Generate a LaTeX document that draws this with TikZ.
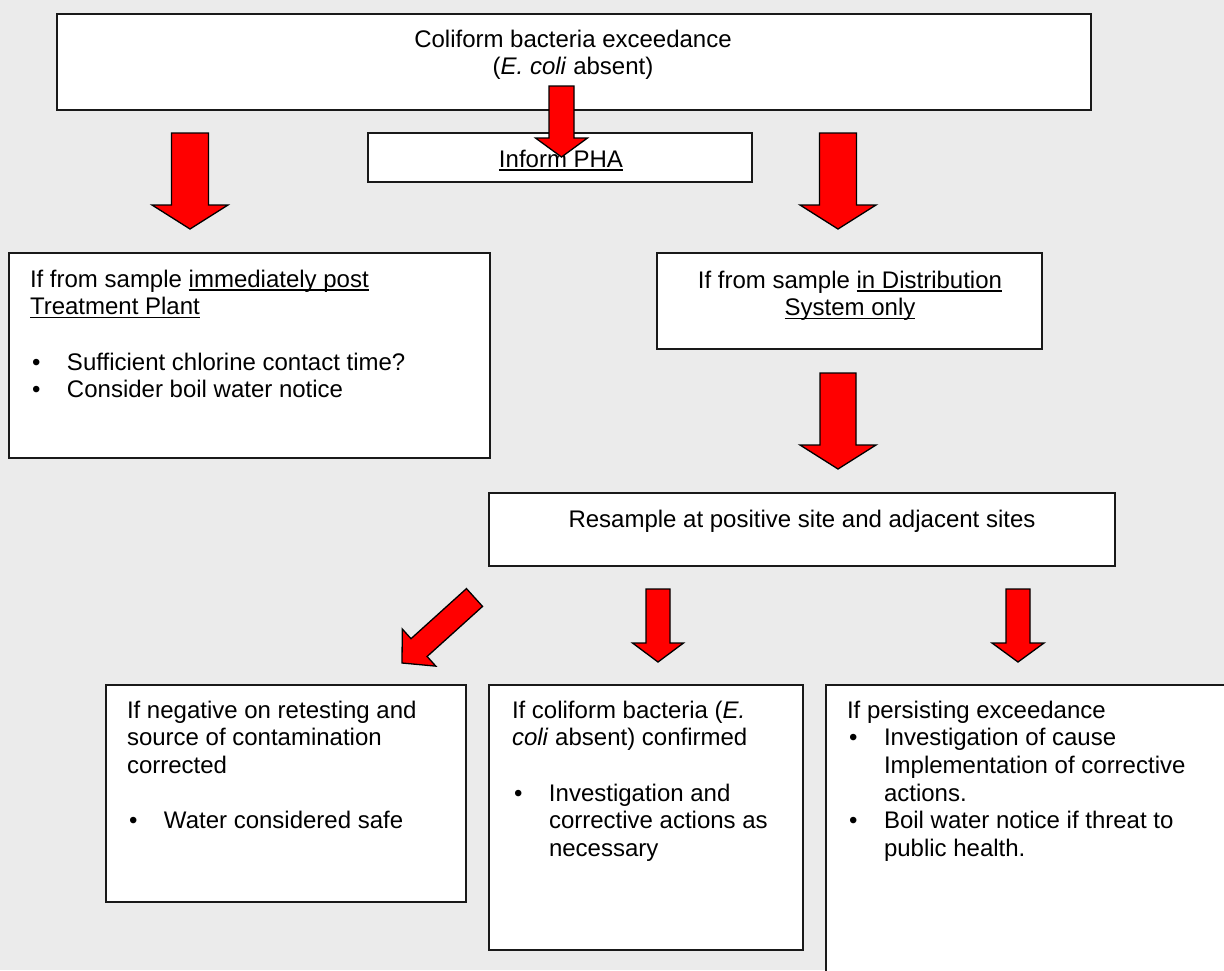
\documentclass[tikz,border=0pt]{standalone}
\usepackage{fontspec}
\setmainfont{Liberation Sans}
\usetikzlibrary{calc}
\definecolor{bggray}{RGB}{235,235,235}
\definecolor{arrowred}{RGB}{255,0,0}
\newcommand\myul[1]{\setbox0\hbox{#1}\rlap{\rule[-3.5pt]{\wd0}{1.5pt}}\box0}
\newcommand\bulmark{\makebox[37pt][l]{\hspace{2pt}\textbullet}}
\newcommand\blockarrow[6]{%
  \coordinate (#6-h) at ($(#2)!#5!(#1)$);
  \draw[redarrow] ($(#1)!#3!90:(#2)$) -- ($(#6-h)!#3!90:(#2)$) -- ($(#6-h)!#4!90:(#2)$) -- (#2)
    -- ($(#6-h)!#4!-90:(#2)$) -- ($(#6-h)!#3!-90:(#2)$) -- ($(#1)!#3!-90:(#2)$) -- cycle;}
\newcommand\boxnode[5]{%
  \node[box, anchor=north west, minimum width={#4-#2}, minimum height={#5-#3}] (#1) at (#2,#3) {};}
\tikzset{
  box/.style={draw=black!90, fill=white, line width=1.6pt, inner sep=0pt, outer sep=0pt},
  txt/.style={inner sep=0pt, outer sep=0pt, font=\fontsize{24}{27.7}\selectfont, text=black},
  redarrow/.style={fill=arrowred, draw=black, line width=1.3pt, line join=miter},
}
\begin{document}
\begin{tikzpicture}[x=1pt,y=-1pt]
\fill[bggray] (0,0) rectangle (1224,970);
\useasboundingbox (0,0) rectangle (1224,970);
\begin{scope}
\clip (0,0) rectangle (1224,970);
% boxes
\boxnode{top}{57}{14}{1091}{110}
\boxnode{inform}{368}{133}{752}{182}
\boxnode{post}{9}{253}{490}{458}
\boxnode{dist}{657}{253}{1042}{349}
\boxnode{resample}{489}{493}{1115}{566}
\boxnode{neg}{106}{685}{466}{902}
\boxnode{conf}{489}{685}{803}{950}
\boxnode{pers}{826}{685}{1260}{1010}

% texts
\node[txt, anchor=base] (toptxt) at (573,47) {\begin{tabular}[t]{@{}c@{}}Coliform bacteria exceedance\\(\textit{E. coli} absent)\end{tabular}};
\node[txt, anchor=base] (informtxt) at (561,167) {\myul{Inform PHA}};
\node[txt, anchor=base west] (posttxt) at (30,287) {\begin{tabular}[t]{@{}l@{}l@{}}
\multicolumn{2}{@{}l@{}}{If from sample \myul{immediately post}}\\
\multicolumn{2}{@{}l@{}}{\myul{Treatment Plant}}\\
 & \\
\bulmark & Sufficient chlorine contact time?\\
\bulmark & Consider boil water notice
\end{tabular}};
\node[txt, anchor=base] (disttxt) at (850,288) {\begin{tabular}[t]{@{}c@{}}If from sample \myul{in Distribution}\\\myul{System only}\end{tabular}};
\node[txt, anchor=base] (resampletxt) at (802,527) {Resample at positive site and adjacent sites};
\node[txt, anchor=base west] (negtxt) at (127,718) {\begin{tabular}[t]{@{}l@{}l@{}}
\multicolumn{2}{@{}l@{}}{If negative on retesting and}\\
\multicolumn{2}{@{}l@{}}{source of contamination}\\
\multicolumn{2}{@{}l@{}}{corrected}\\
 & \\
\bulmark & Water considered safe
\end{tabular}};
\node[txt, anchor=base west] (conftxt) at (512,718) {\begin{tabular}[t]{@{}l@{}l@{}}
\multicolumn{2}{@{}l@{}}{If coliform bacteria (\textit{E.}}\\
\multicolumn{2}{@{}l@{}}{\textit{coli} absent) confirmed}\\
 & \\
\bulmark & Investigation and\\
 & corrective actions as\\
 & necessary
\end{tabular}};
\node[txt, anchor=base west] (perstxt) at (847,718) {\begin{tabular}[t]{@{}l@{}l@{}}
\multicolumn{2}{@{}l@{}}{If persisting exceedance}\\
\bulmark & Investigation of cause\\
 & Implementation of corrective\\
 & actions.\\
\bulmark & Boil water notice if threat to\\
 & public health.
\end{tabular}};

% block arrows
\coordinate (a1s) at (190,133); \coordinate (a1t) at (190,229);
\coordinate (a2s) at (561.5,86); \coordinate (a2t) at (561.5,157);
\coordinate (a3s) at (838,133); \coordinate (a3t) at (838,229);
\coordinate (a4s) at (838,373); \coordinate (a4t) at (838,469);
\coordinate (a5s) at (474.5,597.5); \coordinate (a5t) at (402,663);
\coordinate (a6s) at (658,589); \coordinate (a6t) at (658,662);
\coordinate (a7s) at (1018,589); \coordinate (a7t) at (1018,662);
\blockarrow{a1s}{a1t}{18.5pt}{38pt}{24pt}{a1}
\blockarrow{a2s}{a2t}{12.5pt}{26pt}{19pt}{a2}
\blockarrow{a3s}{a3t}{18.5pt}{38pt}{24pt}{a3}
\blockarrow{a4s}{a4t}{18pt}{38pt}{24pt}{a4}
\blockarrow{a5s}{a5t}{12pt}{25pt}{23pt}{a5}
\blockarrow{a6s}{a6t}{12pt}{25.5pt}{19pt}{a6}
\blockarrow{a7s}{a7t}{12pt}{26pt}{19pt}{a7}
\end{scope}
\end{tikzpicture}
\end{document}
